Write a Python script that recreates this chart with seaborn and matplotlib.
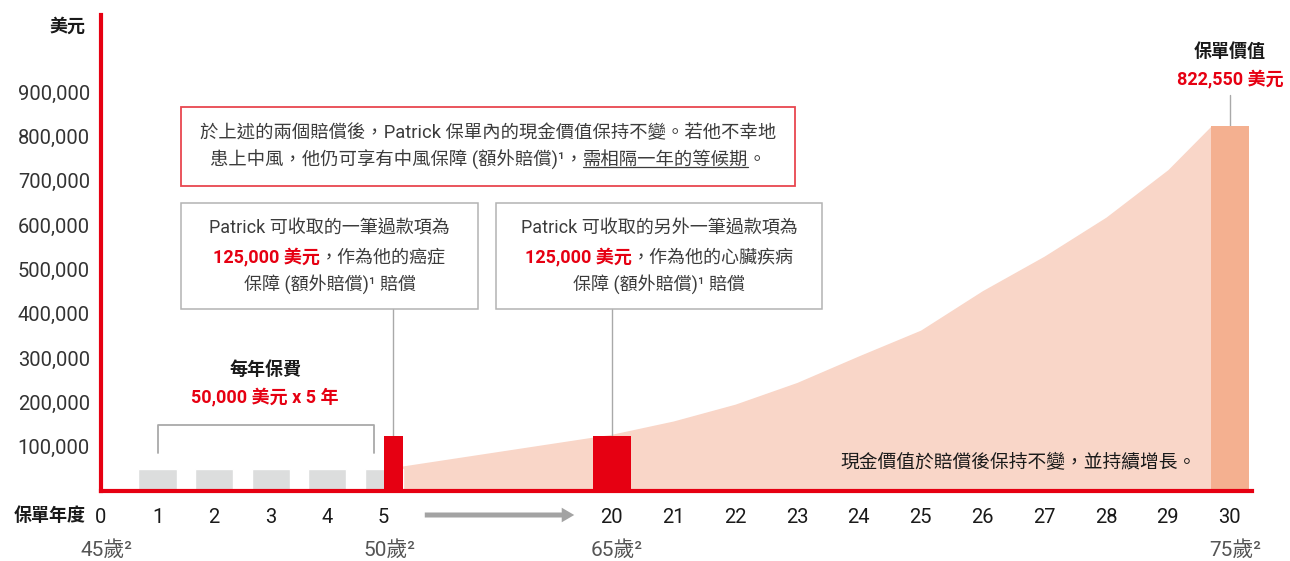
import matplotlib
matplotlib.use("Agg")
import matplotlib.pyplot as plt
import seaborn as sns
from matplotlib.patches import Rectangle, FancyArrowPatch
from matplotlib.lines import Line2D
from matplotlib.transforms import blended_transform_factory

# data
tick_years = [0, 1, 2, 3, 4, 5, 20, 21, 22, 23, 24, 25, 26, 27, 28, 29, 30]
premium_years = [1, 2, 3, 4, 5]
premium_paid = [50000, 50000, 50000, 50000, 50000]
claim_years = [5, 20]
claim_paid = [125000, 125000]
cash_years = [5, 20, 21, 22, 23, 24, 25, 26, 27, 28, 29]
cash_value = [50000, 128000, 158000, 196000, 245000, 305000, 363000, 452000, 530000, 618000, 725000]
final_year = 30
policy_value = 822550
y_ticks = [100000, 200000, 300000, 400000, 500000, 600000, 700000, 800000, 900000]
age_years = [0, 5, 20, 30]
ages = [45, 50, 65, 75]

RED = "#E60012"
GRAYBAR = "#DCDDDD"
PINK = "#F9D6C8"
ORANGE = "#F4B090"
BOXRED = "#E8464F"
BOXGRAY = "#B3B3B3"
TXT = "#3C3C3C"
DARK = "#1A1A1A"
LINEGRAY = "#A9A9A9"

sns.set_theme(style="white")
plt.rcParams["font.family"] = ["Roboto", "Noto Sans CJK TC", "DejaVu Sans"]

W, H = 1290, 561
fig = plt.figure(figsize=(W / 100, H / 100), dpi=100)
ax = fig.add_axes([101 / W, 70 / H, (1252 - 101) / W, (546 - 70) / H])


# broken x axis: years 0-5 then 20-30 with a gap
def pos(y):
    if y <= 5:
        return float(y)
    return 5 + 4.035 + (y - 20) * 1.094


bw = 0.673

# cash value area
cx = [pos(y) for y in cash_years] + [pos(final_year) - bw / 2]
cy = cash_value + [policy_value]
ax.fill_between(cx, cy, color=PINK, lw=0, zorder=1)

# premiums
sns.barplot(x=premium_years, y=premium_paid, native_scale=True, width=bw,
            color=GRAYBAR, saturation=1, errorbar=None, ax=ax, zorder=2)

# claim payouts
ax.bar(pos(claim_years[0]), claim_paid[0], width=bw / 2, align="edge", color=RED, lw=0, zorder=3)
ax.bar(pos(claim_years[1]), claim_paid[1], width=bw, color=RED, lw=0, zorder=3)
ax.bar(pos(final_year), policy_value, width=bw, color=ORANGE, lw=0, zorder=3)

ax.set_xlim(0, 20.37)
ax.set_ylim(0, 1074000)
ax.set_xticks([pos(y) for y in tick_years])
ax.set_xticklabels([str(y) for y in tick_years])
ax.set_yticks(y_ticks)
ax.set_yticklabels([f"{v:,}" for v in y_ticks])
ax.set_xlabel("")
ax.set_ylabel("")
for s in ["top", "right"]:
    ax.spines[s].set_visible(False)
for s in ["left", "bottom"]:
    ax.spines[s].set_color(RED)
    ax.spines[s].set_linewidth(3)
    ax.spines[s].set_zorder(4)
ax.tick_params(axis="both", colors=RED, labelcolor=DARK, length=6, width=2.6, labelsize=14.5)
ax.tick_params(axis="y", pad=2, labelcolor="#333333")
ax.tick_params(axis="x", pad=6)
ax.grid(False)


def fxy(x, y):
    return (x / W, 1 - y / H)


def seg_line(cx_, cy_, segs, size):
    texts = [fig.text(0, 0, s, fontsize=size, va="center", ha="left", **kw) for s, kw in segs]
    r = fig.canvas.get_renderer()
    widths = [t.get_window_extent(r).width for t in texts]
    x = cx_ - sum(widths) / 2
    for t, w in zip(texts, widths):
        t.set_position(fxy(x, cy_))
        x += w
    return texts


def underline(t, dy=2):
    r = fig.canvas.get_renderer()
    bb = t.get_window_extent(r)
    fig.add_artist(Line2D([bb.x0 / W, bb.x1 / W], [(bb.y0 + dy) / H] * 2,
                          color=TXT, lw=0.9, transform=fig.transFigure))


# axis titles
fig.text(*fxy(86, 27), "美元", fontsize=13, fontweight="bold", color=DARK, ha="right", va="center")
fig.text(*fxy(86, 516), "保單年度", fontsize=13, fontweight="bold", color=DARK, ha="right", va="center")

# ages under the axis
bt = blended_transform_factory(ax.transData, fig.transFigure)
for yr, a in zip(age_years, ages):
    ax.text(pos(yr) + 0.1, 1 - 550 / H, f"{a}歲²", transform=bt, fontsize=15,
            color="#555555", ha="center", va="center", clip_on=False)

# arrow across the gap
fig.add_artist(FancyArrowPatch(fxy(422, 515), fxy(577, 515), transform=fig.transFigure,
                               arrowstyle="simple,head_length=0.9,head_width=1.05,tail_width=0.36",
                               mutation_scale=10, color="#A3A3A3", lw=0))

# red note box
fig.add_artist(Rectangle(fxy(181, 186), 614 / W, 79 / H, transform=fig.transFigure,
                         fill=False, ec=BOXRED, lw=1.3))
seg_line(488, 133, [("於上述的兩個賠償後，Patrick 保單內的現金價值保持不變。若他不幸地", dict(color=TXT))], 13.2)
l2 = seg_line(488, 160, [("患上中風，他仍可享有中風保障 (額外賠償)¹，", dict(color=TXT)),
                         ("需相隔一年的等候期", dict(color=TXT)),
                         ("。", dict(color=TXT))], 13.2)
underline(l2[1])

# grey claim boxes
for (x0, x1), illness in [((181, 478), "作為他的癌症"), ((496, 822), "作為他的心臟疾病")]:
    fig.add_artist(Rectangle(fxy(x0, 309), (x1 - x0) / W, 106 / H, transform=fig.transFigure,
                             fill=False, ec=BOXGRAY, lw=1.1))
    mid = (x0 + x1) / 2
    first = "Patrick 可收取的一筆過款項為" if x0 < 400 else "Patrick 可收取的另外一筆過款項為"
    seg_line(mid, 229, [(first, dict(color=TXT))], 13)
    seg_line(mid, 257, [(f"{claim_paid[0]:,} 美元", dict(color=RED, fontweight="bold")),
                        ("，" + illness, dict(color=TXT))], 13)
    seg_line(mid, 284, [("保障 (額外賠償)¹ 賠償", dict(color=TXT))], 13)

# connectors from boxes to bars
inv = ax.transData.inverted()
box_bottom = inv.transform((0, H - 309))[1]
ax.plot([pos(claim_years[0]) + bw / 4] * 2, [claim_paid[0], box_bottom], color=LINEGRAY, lw=1, zorder=2, clip_on=False)
ax.plot([pos(claim_years[1])] * 2, [claim_paid[1], box_bottom], color=LINEGRAY, lw=1, zorder=2, clip_on=False)
label_bottom = inv.transform((0, H - 95))[1]
ax.plot([pos(final_year)] * 2, [policy_value, label_bottom], color=LINEGRAY, lw=1, zorder=2, clip_on=False)

# premium bracket
br_top = inv.transform((0, H - 425))[1]
br_bot = inv.transform((0, H - 453))[1]
ax.plot([premium_years[0], premium_years[0], 4.83, 4.83], [br_bot, br_top, br_top, br_bot],
        color=LINEGRAY, lw=1.3, zorder=2)

fig.text(*fxy(265, 370), "每年保費", fontsize=13, fontweight="bold", color=DARK, ha="center", va="center")
fig.text(*fxy(265, 397), f"{premium_paid[0]:,} 美元 x {len(premium_years)} 年", fontsize=13,
         fontweight="bold", color=RED, ha="center", va="center")

fig.text(*fxy(1230, 52), "保單價值", fontsize=13, fontweight="bold", color=DARK, ha="center", va="center")
fig.text(*fxy(1230, 79), f"{policy_value:,} 美元", fontsize=13, fontweight="bold", color=RED,
         ha="center", va="center")

fig.text(*fxy(1197, 463), "現金價值於賠償後保持不變，並持續增長。", fontsize=13.5, color=DARK,
         ha="right", va="center")

fig.savefig("out.png", dpi=100)
